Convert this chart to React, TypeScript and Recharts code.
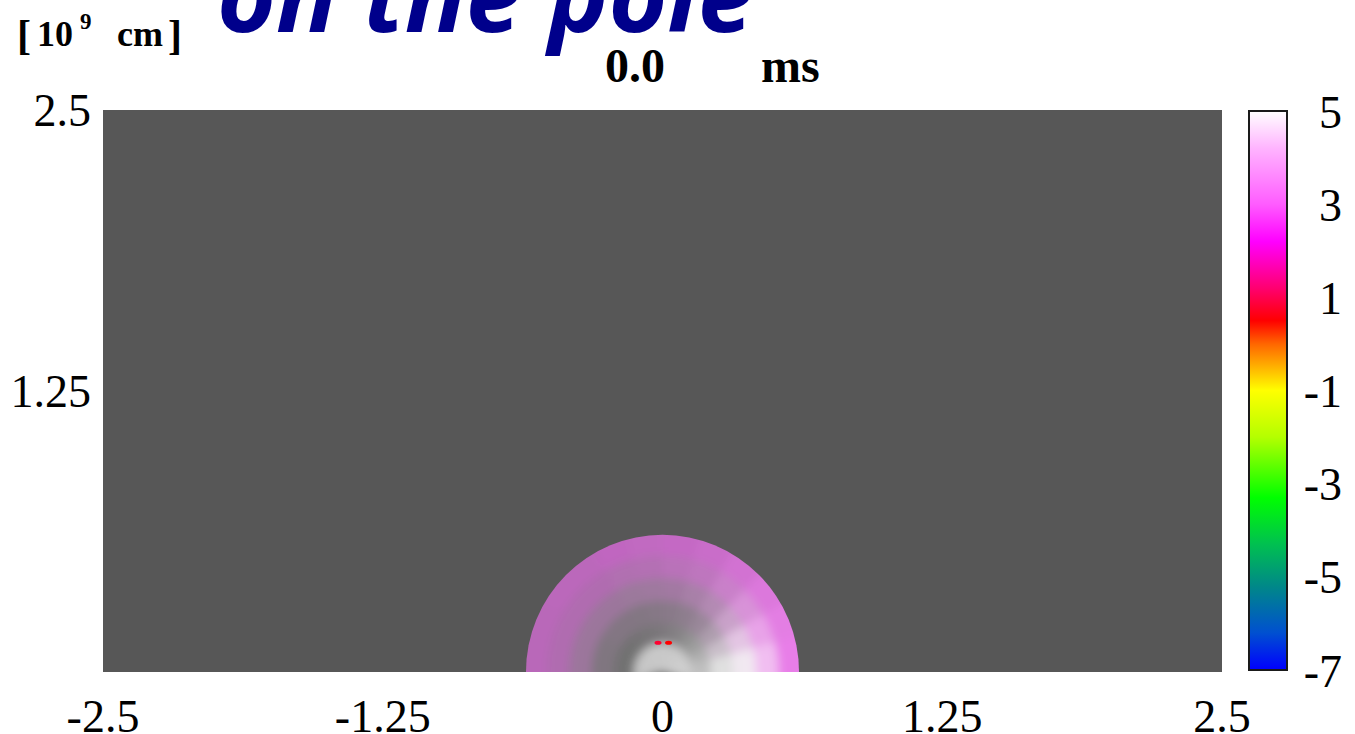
import { ScatterChart, Scatter, XAxis, YAxis, CartesianGrid, BarChart, Bar } from "recharts"

// axes, in units of 10^9 cm
const xTicks = [-2.5, -1.25, 0, 1.25, 2.5]
const yTicks = [1.25, 2.5]

// colour scale of the field
const cbarTicks = [5, 3, 1, -1, -3, -5, -7]
const cbarValues = [5, 4.2, 3, 2.2, 1.2, 0.5, 0, -1, -2, -3.3, -4.3, -5.2, -6.2, -7]
const cbarColors = [
  "#ffffff", "#ffb4ff", "#ff5cff", "#ff00ff", "#ff0070", "#ff0000", "#ff6600",
  "#ffff00", "#b4ff00", "#00ff00", "#00c050", "#008888", "#0050d0", "#0000ff",
]

// polar grid of the bubble: ring edges (10^9 cm), sectors of 15 deg from +x to -x
const ringEdges = [0, 0.13, 0.22, 0.32, 0.42, 0.52, 0.61]
const sectorCount = 12

// field value per cell (rows = rings, inner to outer)
const hueRows = [
  [5, 5, 5, 5, 5, 5, 5, 5, 5, 5, 5, 5],
  [5, 5, 5, 5, 4.8, 4.6, 4.4, 4.2, 4, 4, 4, 4],
  [5, 4.8, 4.6, 4.3, 4.1, 4, 3.9, 3.9, 3.8, 3.8, 3.8, 3.8],
  [4.9, 4.6, 4.3, 4, 3.8, 3.6, 3.6, 3.6, 3.5, 3.5, 3.5, 3.5],
  [4.4, 4.1, 3.9, 3.6, 3.4, 3.3, 3.2, 3.2, 3.1, 3.1, 3.1, 3.1],
  [3.5, 3.5, 3.4, 3.3, 3.2, 3.1, 3.1, 3, 3, 3, 3, 3],
]
// how strongly the value shows over the grey matter
const tintRows = [
  [0.66, 0.66, 0.64, 0.64, 0.62, 0.62, 0.62, 0.62, 0.62, 0.6, 0.6, 0.6],
  [0.55, 0.45, 0.32, 0.22, 0.14, 0.1, 0.06, 0.04, 0.02, 0, 0, 0],
  [0.78, 0.62, 0.42, 0.28, 0.2, 0.16, 0.14, 0.12, 0.12, 0.12, 0.1, 0.1],
  [0.9, 0.8, 0.62, 0.46, 0.38, 0.34, 0.32, 0.3, 0.3, 0.3, 0.3, 0.3],
  [0.9, 0.84, 0.72, 0.62, 0.54, 0.5, 0.47, 0.45, 0.44, 0.44, 0.44, 0.44],
  [0.84, 0.8, 0.75, 0.68, 0.62, 0.58, 0.56, 0.55, 0.52, 0.52, 0.5, 0.5],
]

// small hot spots on top of the core
const spotX = [-0.02, 0.027]
const spotY = [0.13, 0.13]
const spotV = [0.8, 0.5]

const serif = "'Liberation Serif', 'Times New Roman', serif"

const hex = (c: string) => [1, 3, 5].map((i) => parseInt(c.slice(i, i + 2), 16))

function colormap(v: number) {
  const n = cbarValues.length
  if (v >= cbarValues[0]) return hex(cbarColors[0])
  if (v <= cbarValues[n - 1]) return hex(cbarColors[n - 1])
  for (let i = 0; i < n - 1; i++) {
    const a = cbarValues[i]
    const b = cbarValues[i + 1]
    if (v <= a && v >= b) {
      const t = (a - v) / (a - b)
      const ca = hex(cbarColors[i])
      const cb = hex(cbarColors[i + 1])
      return ca.map((c, k) => c + (cb[k] - c) * t)
    }
  }
  return [255, 255, 255]
}

const GREY = [114, 114, 114]
function cellColor(v: number, s: number) {
  const c = colormap(v)
  const m = c.map((x, k) => Math.round(GREY[k] + (x - GREY[k]) * s))
  return `rgb(${m[0]},${m[1]},${m[2]})`
}

// origin and unit points; the disk is drawn from their pixel positions
const anchors = [
  { x: 0, y: 0 },
  { x: 1, y: 0 },
  { x: 0, y: 1 },
]

const spots = spotX.map((x, i) => ({ x, y: spotY[i], v: spotV[i] }))

function renderDisk(props: any) {
  const pts = props.points
  if (!pts || pts.length < 3) return <g />
  const ox = pts[0].x
  const oy = pts[0].y
  const sx = pts[1].x - ox
  const sy = oy - pts[2].y
  const px = (r: number, a: number) => [ox + r * Math.cos(a) * sx, oy - r * Math.sin(a) * sy]
  const step = Math.PI / sectorCount
  const rMax = ringEdges[ringEdges.length - 1]

  const cells: JSX.Element[] = []
  for (let i = 0; i < ringEdges.length - 1; i++) {
    const r0 = ringEdges[i]
    // outer ring drawn a bit wider, the clip trims it to the bubble edge
    const r1 = i === ringEdges.length - 2 ? rMax + 0.06 : ringEdges[i + 1]
    for (let k = 0; k < sectorCount; k++) {
      const a0 = k === 0 ? -0.3 : k * step
      const a1 = k === sectorCount - 1 ? Math.PI + 0.3 : (k + 1) * step
      const [x0, y0] = px(r1, a0)
      const [x1, y1] = px(r1, a1)
      const [x2, y2] = px(r0, a1)
      const [x3, y3] = px(r0, a0)
      const fill = cellColor(hueRows[i][k], tintRows[i][k])
      const d =
        r0 === 0
          ? `M${ox},${oy} L${x0},${y0} A${r1 * sx},${r1 * sy} 0 0 0 ${x1},${y1} Z`
          : `M${x0},${y0} A${r1 * sx},${r1 * sy} 0 0 0 ${x1},${y1} L${x2},${y2} A${r0 * sx},${r0 * sy} 0 0 1 ${x3},${y3} Z`
      cells.push(<path key={`${i}-${k}`} d={d} fill={fill} stroke={fill} strokeWidth={1} />)
    }
  }

  const [lx, ly] = px(rMax, Math.PI)
  const [rx, ry] = px(rMax, 0)
  const clip = `M${lx},${ly} A${rMax * sx},${rMax * sy} 0 0 1 ${rx},${ry} Z`

  return (
    <g>
      <defs>
        <clipPath id="bubbleClip">
          <path d={clip} />
        </clipPath>
        <filter id="bubbleSoft" x="-20%" y="-20%" width="140%" height="140%">
          <feGaussianBlur stdDeviation="5" />
        </filter>
      </defs>
      <g clipPath="url(#bubbleClip)">
        <g filter="url(#bubbleSoft)">{cells}</g>
      </g>
    </g>
  )
}

function HotSpot(props: any) {
  const { cx, cy, payload } = props
  const c = colormap(payload.v).map(Math.round)
  return <ellipse cx={cx} cy={cy} rx={3.5} ry={2} fill={`rgb(${c[0]},${c[1]},${c[2]})`} />
}

function CbarTick(props: any) {
  const { x, y, payload } = props
  return (
    <text x={x + 47} y={y} dy="0.36em" textAnchor="end" fontFamily={serif} fontSize={46} fill="#000">
      {payload.value}
    </text>
  )
}

const cbarData = [{ name: "scale", span: [cbarTicks[cbarTicks.length - 1], cbarTicks[0]] }]

export default function App() {
  return (
    <div style={{ position: "absolute", left: 0, top: 0, width: 1355, height: 734, background: "#fff", overflow: "hidden" }}>
      <svg width={1355} height={734} style={{ position: "absolute", left: 0, top: 0 }}>
        <text x={217} y={32} fontFamily="'Noto Sans', sans-serif" fontWeight="bold" fontStyle="italic" fontSize={101} fill="#00008b">
          on the pole
        </text>
        <text fontFamily={serif} fontWeight="bold" fill="#000">
          <tspan x={17} y={49} fontSize={42}>[</tspan>
          <tspan x={37} y={46} fontSize={36}>10</tspan>
          <tspan x={80} y={29} fontSize={23}>9</tspan>
          <tspan x={117} y={46} fontSize={36}>cm</tspan>
          <tspan x={168} y={49} fontSize={42}>]</tspan>
        </text>
        <text x={605} y={82} fontFamily={serif} fontWeight="bold" fontSize={48} fill="#000">0.0</text>
        <text x={761} y={82} fontFamily={serif} fontWeight="bold" fontSize={48} fill="#000">ms</text>
      </svg>

      <div style={{ position: "absolute", left: 0, top: 0 }}>
        <ScatterChart width={1355} height={734} margin={{ top: 110, right: 133, bottom: 0, left: 13 }}>
          <CartesianGrid fill="#575757" fillOpacity={1} stroke="none" />
          <XAxis
            type="number"
            dataKey="x"
            domain={[-2.5, 2.5]}
            ticks={xTicks}
            interval={0}
            height={62}
            axisLine={false}
            tickLine={false}
            tickMargin={21}
            tick={{ fontFamily: serif, fontSize: 46, fill: "#000" }}
          />
          <YAxis
            type="number"
            dataKey="y"
            domain={[0, 2.5]}
            ticks={yTicks}
            interval={0}
            width={90}
            axisLine={false}
            tickLine={false}
            tickMargin={6}
            tick={{ fontFamily: serif, fontSize: 46, fill: "#000" }}
          />
          <Scatter data={anchors} line={renderDisk} shape={() => <g />} isAnimationActive={false} />
          <Scatter data={spots} shape={HotSpot} isAnimationActive={false} />
        </ScatterChart>
      </div>

      <div style={{ position: "absolute", left: 1200, top: 0 }}>
        <BarChart width={155} height={734} data={cbarData} margin={{ top: 111, right: 0, bottom: 64, left: 49 }} barCategoryGap={0}>
          <defs>
            <linearGradient id="cbarFill" x1="0" y1="0" x2="0" y2="1">
              {cbarValues.map((v, i) => (
                <stop key={v} offset={(cbarTicks[0] - v) / (cbarTicks[0] - cbarTicks[cbarTicks.length - 1])} stopColor={cbarColors[i]} />
              ))}
            </linearGradient>
          </defs>
          <XAxis dataKey="name" hide />
          <YAxis
            orientation="right"
            type="number"
            domain={[-7, 5]}
            ticks={cbarTicks}
            interval={0}
            width={68}
            axisLine={false}
            tickLine={false}
            tick={<CbarTick />}
          />
          <Bar dataKey="span" fill="url(#cbarFill)" stroke="#1a1a1a" strokeWidth={2} isAnimationActive={false} />
        </BarChart>
      </div>
    </div>
  )
}
